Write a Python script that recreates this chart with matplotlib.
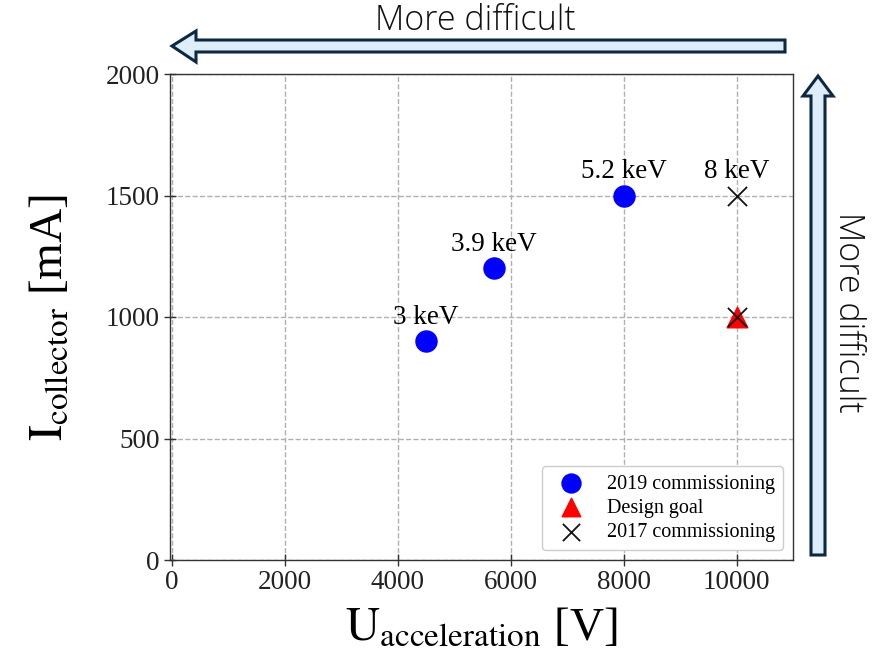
import matplotlib
matplotlib.use("Agg")
import matplotlib.pyplot as plt
from matplotlib.patches import Polygon

plt.rcParams['font.family'] = ['Liberation Serif', 'DejaVu Serif']
plt.rcParams['mathtext.fontset'] = 'stix'

# Data
blue_x = [4500, 5700, 8000]
blue_y = [900, 1200, 1500]
blue_labels = ["3 keV", "3.9 keV", "5.2 keV"]
goal_x = [10000]
goal_y = [1000]
old_x = [10000, 10000]
old_y = [1500, 1000]
old_labels = ["8 keV", ""]
xticks = [0, 2000, 4000, 6000, 8000, 10000]
yticks = [0, 500, 1000, 1500, 2000]

W, H = 884, 659
fig = plt.figure(figsize=(W / 100, H / 100), dpi=100)
ax = fig.add_axes([170 / W, 1 - 560 / H, (793 - 170) / W, (560 - 74) / H])

ax.grid(True, color='#b0b0b0', linestyle='--', linewidth=1.0, zorder=0)
ax.set_axisbelow(True)

ax.scatter(blue_x, blue_y, s=230, color='#0000ff', label='2019 commissioning', zorder=3)
ax.scatter(goal_x, goal_y, s=220, marker='^', color='#ff0000', label='Design goal', zorder=3)
ax.scatter(old_x, old_y, s=190, marker='x', color='#111111', linewidths=1.3, label='2017 commissioning', zorder=4)

for x, y, t in zip(blue_x, blue_y, blue_labels):
    ax.annotate(t, (x, y), xytext=(0, 8), textcoords='offset points', ha='center', va='bottom', fontsize=19.5)
for x, y, t in zip(old_x, old_y, old_labels):
    if t:
        ax.annotate(t, (x, y), xytext=(0, 8), textcoords='offset points', ha='center', va='bottom', fontsize=19.5)

ax.set_xlim(-30, 11000)
ax.set_ylim(0, 2000)
ax.set_xticks(xticks)
ax.set_yticks(yticks)
ax.tick_params(axis='both', labelsize=19.5, direction='inout', length=8, width=1, color='#333333',
               labelcolor='#222222', top=False, right=False)
for s in ax.spines.values():
    s.set_color('#333333')
    s.set_linewidth(1)

ax.set_xlabel(r'$\mathrm{U_{acceleration}}$ [V]', fontsize=34, labelpad=8)
ax.set_ylabel(r'$\mathrm{I_{collector}}$ [mA]', fontsize=34, labelpad=24)

leg = ax.legend(loc='lower right', fontsize=14.5, frameon=True, framealpha=1, edgecolor='#cccccc',
                handletextpad=0.8, borderpad=0.4, labelspacing=0.25, markerscale=0.9)

# Arrows (pixel coordinates converted to figure fraction)
def poly(pts):
    return [(x / W, 1 - y / H) for x, y in pts]

fc = '#ddeef8'
ec = '#0e2841'
top = poly([(785, 40), (196, 40), (196, 31), (172, 46), (196, 62), (196, 52), (785, 52)])
fig.add_artist(Polygon(top, closed=True, facecolor=fc, edgecolor=ec, linewidth=2.2, transform=fig.transFigure))
right = poly([(811, 555), (811, 96), (803, 96), (818, 76), (833, 96), (825, 96), (825, 555)])
fig.add_artist(Polygon(right, closed=True, facecolor=fc, edgecolor=ec, linewidth=2.2, transform=fig.transFigure))

fig.text(475 / W, 1 - 21 / H, 'More difficult', ha='center', va='center', fontsize=24.5,
         family=['Open Sans', 'DejaVu Sans'], fontweight='light', color='#111111')
fig.text(848 / W, 1 - 312 / H, 'More difficult', ha='center', va='center', fontsize=24.5, rotation=-90,
         family=['Open Sans', 'DejaVu Sans'], fontweight='light', color='#111111')

fig.savefig('out.png', dpi=100)
